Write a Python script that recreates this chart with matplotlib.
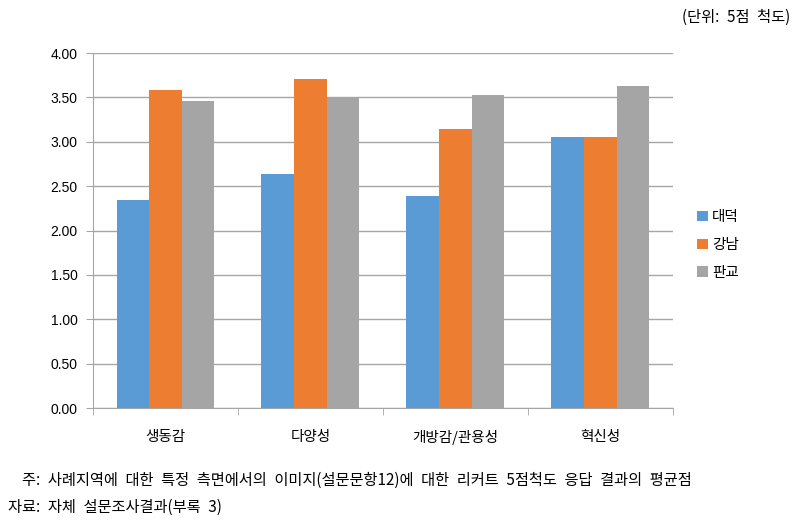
import matplotlib
matplotlib.use("Agg")
import matplotlib.pyplot as plt
import numpy as np

categories = ["생동감", "다양성", "개방감/관용성", "혁신성"]
series_names = ["대덕", "강남", "판교"]
daedeok = [2.35, 2.64, 2.39, 3.06]
gangnam = [3.58, 3.71, 3.14, 3.06]
pangyo = [3.46, 3.50, 3.53, 3.63]
yticks = [0.0, 0.5, 1.0, 1.5, 2.0, 2.5, 3.0, 3.5, 4.0]
colors = ["#5B9BD5", "#ED7D31", "#A5A5A5"]

KFONT = ["Noto Sans CJK KR", "DejaVu Sans"]
NFONT = ["Liberation Sans", "Noto Sans CJK KR"]
plt.rcParams["font.family"] = KFONT

fig = plt.figure(figsize=(7.98, 5.26), dpi=100)
ax = fig.add_axes([0.1165, 0.2243, 0.7265, 0.6747])

x = np.arange(len(categories))
w = 0.225
for i, (vals, name) in enumerate(zip([daedeok, gangnam, pangyo], series_names)):
    ax.bar(x + (i - 1) * w, vals, width=w, color=colors[i], label=name, zorder=3)

ax.set_xlim(-0.5, len(categories) - 0.5)
ax.set_ylim(0, 4)
ax.set_yticks(yticks)
ax.set_yticklabels([f"{v:.2f}" for v in yticks], fontsize=10, family=NFONT)
ax.yaxis.grid(True, color="#A6A6A6", linewidth=1.0, zorder=0)
ax.set_xticks(x)
ax.set_xticklabels(categories, fontsize=10.5, family=KFONT)
ax.set_xticks(np.arange(-0.5, len(categories)), minor=True)
ax.tick_params(axis="x", which="major", length=0, pad=16)
ax.tick_params(axis="x", which="minor", length=5, color="#A6A6A6")
ax.tick_params(axis="y", length=5, color="#A6A6A6", pad=6)
for s in ["top", "right"]:
    ax.spines[s].set_visible(False)
ax.spines["left"].set_color("#A6A6A6")
ax.spines["bottom"].set_color("#A6A6A6")

leg = ax.legend(loc="center left", bbox_to_anchor=(1.02, 0.46), frameon=False,
                fontsize=10.5, handlelength=0.7, handleheight=0.7, handletextpad=0.3,
                labelspacing=0.95)

SP = "\u2002"
fig.text(0.99, 0.967, f"(단위:{SP}5점{SP}척도)", ha="right", va="center", fontsize=11)
note1 = "주: 사례지역에 대한 특정 측면에서의 이미지(설문문항12)에 대한 리커트 5점척도 응답 결과의 평균점"
fig.text(0.028, 0.086, note1.replace(" ", SP), ha="left", va="center", fontsize=11)
fig.text(0.010, 0.036, "자료: 자체 설문조사결과(부록 3)".replace(" ", SP), ha="left", va="center", fontsize=11)

fig.savefig("out.png", dpi=100)
